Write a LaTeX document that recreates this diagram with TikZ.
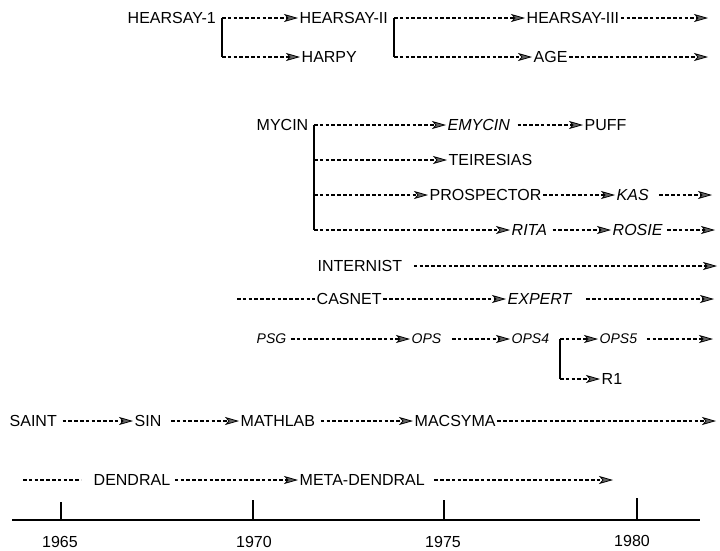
\documentclass[tikz,border=0pt]{standalone}
\usepackage{fontspec}
\setmainfont{Liberation Sans}
\usetikzlibrary{arrows.meta}
\begin{document}
\begin{tikzpicture}[x=1pt,y=-1pt,
  lab/.style={anchor=west,inner xsep=1.5pt,inner ysep=0pt,font=\fontsize{16}{18}\selectfont},
  ilab/.style={lab,font=\fontsize{16}{18}\selectfont\itshape},
  slab/.style={lab,font=\fontsize{14}{16}\selectfont\itshape},
  dsh/.style={line width=1.2pt,dash pattern=on 3.6pt off 2.2pt},
  arr/.style={dsh,-{Stealth[length=14pt,width=8pt,inset=3.5pt,fill=black!60,line width=0.8pt]}},
  brk/.style={line width=1.3pt},
  yr/.style={font=\fontsize{16}{18}\selectfont,inner sep=0pt}]
\useasboundingbox (0,0) rectangle (720,550);

% ---- HEARSAY family
\node[lab] (h1) at (126,18) {HEARSAY-1};
\node[lab] (h2) at (298,18) {HEARSAY-II};
\node[lab] (harpy) at (300,57) {HARPY};
\node[lab] (h3) at (525,18) {HEARSAY-III};
\node[lab] (age) at (532,57) {AGE};
\coordinate (b1t) at (222,18);
\coordinate (b1b) at (222,57);
\coordinate (b2t) at (394,18);
\coordinate (b2b) at (394,57);
\coordinate (h3end) at (708,18);
\coordinate (ageend) at (708,57);
\draw[brk] (b1t) -- (b1b);
\draw[brk] (b2t) -- (b2b);
\draw[arr] (b1t) -- (h2);
\draw[arr] (b1b) -- (harpy);
\draw[arr] (b2t) -- (h3);
\draw[arr] (b2b) -- (age);
\draw[arr] (h3) -- (h3end);
\draw[arr] (age) -- (ageend);

% ---- MYCIN family
\node[lab] (mycin) at (255,125) {MYCIN};
\node[ilab] (emycin) at (446,125) {EMYCIN};
\node[lab] (puff) at (583,125) {PUFF};
\node[lab] (teir) at (447,160) {TEIRESIAS};
\node[lab] (prosp) at (428,195) {PROSPECTOR};
\node[ilab] (kas) at (615,195) {KAS};
\node[ilab] (rita) at (510,230) {RITA};
\node[ilab] (rosie) at (611,230) {ROSIE};
\coordinate (m1) at (314,125);
\coordinate (m2) at (314,160);
\coordinate (m3) at (314,195);
\coordinate (m4) at (314,230);
\coordinate (kasend) at (712,195);
\coordinate (rosieend) at (715,230);
\draw[brk] (m1) -- (m4);
\draw[arr] (m1) -- (emycin);
\draw[arr,shorten <=6pt] (emycin) -- (puff);
\draw[arr] (m2) -- (teir);
\draw[arr] (m3) -- (prosp);
\draw[arr] (prosp) -- (kas);
\draw[arr,shorten <=9pt] (kas) -- (kasend);
\draw[arr] (m4) -- (rita);
\draw[arr,shorten <=4pt] (rita) -- (rosie);
\draw[arr,shorten <=3pt] (rosie) -- (rosieend);

% ---- INTERNIST
\node[lab] (internist) at (316,266) {INTERNIST};
\coordinate (intend) at (717,266);
\draw[arr,shorten <=10pt] (internist) -- (intend);

% ---- CASNET
\coordinate (caspre) at (237,299);
\node[lab] (casnet) at (315,299) {CASNET};
\node[ilab] (expert) at (506,299) {EXPERT};
\coordinate (expend) at (714,299);
\draw[dsh] (caspre) -- (casnet);
\draw[arr] (casnet) -- (expert);
\draw[arr,shorten <=13pt] (expert) -- (expend);

% ---- PSG / OPS
\node[slab] (psg) at (255,339) {PSG};
\node[slab] (ops) at (410,339) {OPS};
\node[slab] (ops4) at (510,339) {OPS4};
\node[slab] (ops5) at (598,339) {OPS5};
\node[lab] (r1) at (600,379) {R1};
\coordinate (o1) at (560,339);
\coordinate (o2) at (560,379);
\coordinate (opsend) at (713,339);
\draw[arr,shorten <=3pt] (psg) -- (ops);
\draw[arr,shorten <=9pt] (ops) -- (ops4);
\draw[brk] (o1) -- (o2);
\draw[arr] (o1) -- (ops5);
\draw[arr] (o2) -- (r1);
\draw[arr,shorten <=8pt] (ops5) -- (opsend);

% ---- SAINT / MACSYMA
\node[lab] (saint) at (8,421) {SAINT};
\node[lab] (sin) at (133,421) {SIN};
\node[lab] (mathlab) at (239,421) {MATHLAB};
\node[lab] (macsyma) at (413,421) {MACSYMA};
\coordinate (macend) at (716,421);
\draw[arr,shorten <=4pt] (saint) -- (sin);
\draw[arr,shorten <=8pt] (sin) -- (mathlab);
\draw[arr,shorten <=4pt] (mathlab) -- (macsyma);
\draw[arr] (macsyma) -- (macend);

% ---- DENDRAL
\coordinate (dpre) at (23,480);
\node[lab] (dendral) at (92,480) {DENDRAL};
\node[lab] (metad) at (298,480) {META-DENDRAL};
\coordinate (mdend) at (613,480);
\draw[dsh,shorten >=11pt] (dpre) -- (dendral);
\draw[arr,shorten <=3pt] (dendral) -- (metad);
\draw[arr,shorten <=8pt] (metad) -- (mdend);

% ---- time axis
\coordinate (ax0) at (12,520);
\coordinate (ax1) at (700,520);
\draw[line width=1.4pt] (ax0) -- (ax1);
\coordinate (t65) at (61,502);
\coordinate (t65b) at (61,520);
\coordinate (t70) at (253,500);
\coordinate (t70b) at (253,520);
\coordinate (t75) at (444,500);
\coordinate (t75b) at (444,520);
\coordinate (t80) at (637,498);
\coordinate (t80b) at (637,520);
\draw[line width=1.1pt] (t65) -- (t65b);
\draw[line width=1.1pt] (t70) -- (t70b);
\draw[line width=1.1pt] (t75) -- (t75b);
\draw[line width=1.1pt] (t80) -- (t80b);
\node[yr] (y65) at (60,542) {1965};
\node[yr] (y70) at (254,542) {1970};
\node[yr] (y75) at (443,542) {1975};
\node[yr] (y80) at (632,541) {1980};
\end{tikzpicture}
\end{document}
